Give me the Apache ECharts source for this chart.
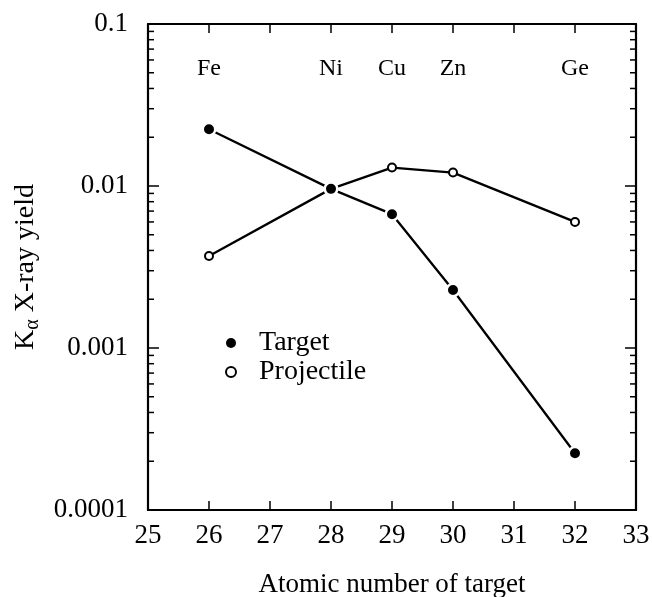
<!DOCTYPE html>
<html>
<head>
<meta charset="utf-8">
<script src="https://cdn.jsdelivr.net/npm/echarts@6/dist/echarts.min.js"></script>
<style>
html,body{margin:0;padding:0;background:#fff;}
#chart{width:652px;height:597px;}
</style>
</head>
<body>
<div id="chart"></div>
<script>
// ---- data ----
const atomicNumbers = [26, 28, 29, 30, 32];
const elementSymbols = ['Fe', 'Ni', 'Cu', 'Zn', 'Ge'];
const targetYield = [0.0224, 0.0096, 0.0067, 0.00228, 0.000224];
const projectileYield = [0.0037, 0.0096, 0.0130, 0.0121, 0.0060];
const xMin = 25, xMax = 33;
const yMin = 0.0001, yMax = 0.1;
const yTickLabels = ['0.0001', '0.001', '0.01', '0.1'];
const yMinorTicks = [];
[0.0001, 0.001, 0.01].forEach(d => { for (let m = 2; m <= 9; m++) yMinorTicks.push(+(m * d).toPrecision(2)); });

const FONT = 'Liberation Serif';
const symbolOf = {};
atomicNumbers.forEach((z, i) => { symbolOf[z] = elementSymbols[i]; });

const chart = echarts.init(document.getElementById('chart'), null, {renderer: 'canvas'});
const axisLineStyle = {color: '#000', width: 2.2};

const option = {
  backgroundColor: '#fff',
  animation: false,
  grid: {left: 148, right: 16, top: 24, bottom: 87, containLabel: false, outerBoundsMode: 'none'},
  legend: {
    orient: 'vertical',
    left: 220,
    top: 324,
    itemGap: 1,
    itemWidth: 10,
    itemHeight: 10,
    icon: 'circle',
    textStyle: {fontFamily: FONT, fontSize: 28, color: '#000', padding: [0, 0, 0, 18]},
    data: [
      {name: 'Target', itemStyle: {color: '#000', borderWidth: 0}},
      {name: 'Projectile', itemStyle: {color: '#fff', borderColor: '#000', borderWidth: 2}}
    ]
  },
  xAxis: [
    {
      type: 'value', min: xMin, max: xMax, interval: 1, position: 'bottom',
      axisLine: {show: true, lineStyle: axisLineStyle},
      axisTick: {show: true, inside: true, length: 9, lineStyle: {color: '#000', width: 1.5}},
      axisLabel: {fontFamily: FONT, fontSize: 27, color: '#000', margin: 12},
      splitLine: {show: false},
      name: 'Atomic number of target',
      nameLocation: 'middle',
      nameGap: 61,
      nameTextStyle: {fontFamily: FONT, fontSize: 27, color: '#000'}
    },
    {
      type: 'value', min: xMin, max: xMax, interval: 1, position: 'top',
      axisLine: {show: true, lineStyle: axisLineStyle},
      axisTick: {show: true, inside: true, length: 9, lineStyle: {color: '#000', width: 1.5}},
      axisLabel: {
        show: true, inside: true, margin: 33,
        fontFamily: FONT, fontSize: 24, color: '#000',
        formatter: v => symbolOf[v] || ''
      },
      splitLine: {show: false}
    }
  ],
  yAxis: [
    {
      type: 'log', logBase: 10, min: yMin, max: yMax, position: 'left',
      axisLine: {show: true, lineStyle: axisLineStyle},
      axisTick: {show: true, inside: true, length: 11, lineStyle: {color: '#000', width: 1.5}},
      axisLabel: {
        fontFamily: FONT, fontSize: 27, color: '#000', margin: 20,
        formatter: v => {
          const e = Math.round(Math.log10(v));
          return yTickLabels[e + 4] || '';
        }
      },
      splitLine: {show: false},
      name: '{m|K}{s|α}{m| X-ray yield}',
      nameLocation: 'middle',
      nameGap: 106,
      nameTextStyle: {
        fontFamily: FONT, color: '#000',
        rich: {
          m: {fontFamily: FONT, fontSize: 28, lineHeight: 32, color: '#000'},
          s: {fontFamily: FONT, fontSize: 20, lineHeight: 20, color: '#000', verticalAlign: 'top', padding: [13, 0, 0, 0]}
        }
      }
    },
    {
      type: 'log', logBase: 10, min: yMin, max: yMax, position: 'right',
      axisLine: {show: true, lineStyle: axisLineStyle},
      axisTick: {show: true, inside: true, length: 11, lineStyle: {color: '#000', width: 1.5}},
      axisLabel: {show: false},
      splitLine: {show: false}
    }
  ],
  series: [
    {
      name: 'minorTicks',
      type: 'custom',
      xAxisIndex: 0, yAxisIndex: 0,
      silent: true,
      clip: false,
      data: yMinorTicks.map(v => [xMin, v]),
      renderItem: (params, api) => {
        const v = api.value(1);
        const pl = api.coord([xMin, v]);
        const pr = api.coord([xMax, v]);
        const st = {stroke: '#000', lineWidth: 1.5};
        return {
          type: 'group',
          children: [
            {type: 'line', shape: {x1: pl[0], y1: pl[1], x2: pl[0] + 6, y2: pl[1]}, style: st},
            {type: 'line', shape: {x1: pr[0] - 6, y1: pr[1], x2: pr[0], y2: pr[1]}, style: st}
          ]
        };
      },
      z: 1
    },
    {
      name: 'Projectile',
      type: 'line',
      xAxisIndex: 0, yAxisIndex: 0,
      data: atomicNumbers.map((z, i) => [z, projectileYield[i]]),
      symbol: 'circle',
      symbolSize: 8,
      lineStyle: {color: '#000', width: 2.3},
      itemStyle: {color: '#fff', borderColor: '#000', borderWidth: 2},
      z: 3
    },
    {
      name: 'Target',
      type: 'line',
      xAxisIndex: 0, yAxisIndex: 0,
      data: atomicNumbers.map((z, i) => [z, targetYield[i]]),
      symbol: 'circle',
      symbolSize: 12.5,
      lineStyle: {color: '#000', width: 2.3},
      itemStyle: {color: '#000', borderColor: '#fff', borderWidth: 2.5},
      z: 4
    }
  ]
};
chart.setOption(option);
</script>
</body>
</html>
